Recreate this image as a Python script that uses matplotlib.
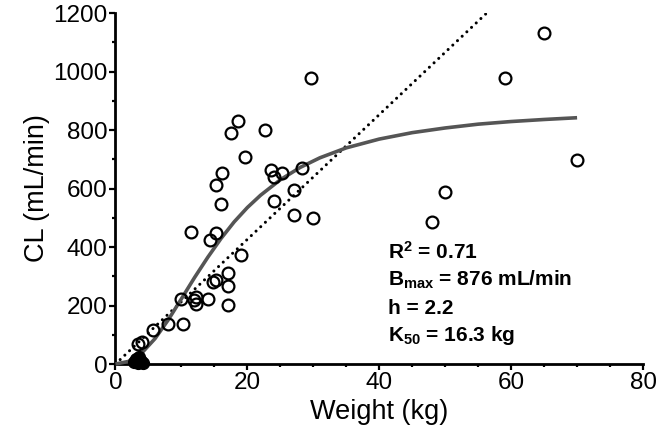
import matplotlib
matplotlib.use("Agg")
import matplotlib.pyplot as plt

plt.rcParams["font.family"] = ["Liberation Sans", "DejaVu Sans"]
plt.rcParams["mathtext.fontset"] = "custom"
plt.rcParams["mathtext.rm"] = "Liberation Sans:bold"
plt.rcParams["mathtext.it"] = "Liberation Sans:bold"
plt.rcParams["mathtext.bf"] = "Liberation Sans:bold"

# observed clearance, open circles
weight = [3.4, 4.0, 5.7, 7.9, 10.2, 9.9, 11.9, 12.2, 12.2, 14.1,
          14.8, 15.2, 17.0, 17.0, 17.0, 19.1, 11.4, 15.2, 14.3, 16.0,
          15.3, 16.1, 19.6, 17.5, 18.6, 22.7, 23.6, 24.1, 25.2, 28.3,
          27.0, 24.0, 27.0, 30.0, 29.6, 48.0, 50.0, 59.0, 65.0, 70.0]
clearance = [67, 74, 116, 137, 137, 221, 218, 228, 205, 221,
             281, 287, 312, 267, 202, 373, 451, 449, 425, 547,
             613, 654, 707, 790, 831, 800, 662, 638, 652, 670,
             595, 558, 508, 498, 977, 484, 588, 977, 1133, 697]

# neonates, filled circles
neo_weight = [2.8, 3.1, 3.4, 3.6, 3.9, 3.3, 4.1]
neo_clearance = [8, 18, 4, 25, 12, 10, 5]

# fitted sigmoid curve
fit_weight = [0, 2, 4, 6, 8, 10, 12, 14, 16, 18, 20, 22, 25, 28, 31,
              35, 40, 45, 50, 55, 60, 65, 70]
fit_clearance = [0, 9, 38, 87, 151, 223, 296, 365, 429, 486, 535, 577,
                 630, 672, 705, 739, 769, 791, 807, 820, 829, 836, 842]

# linear reference line
line_weight = [0, 56.3]
line_clearance = [0, 1200]

stats_lines = [
    r"R$^{2}$ = 0.71",
    r"B$_{\mathrm{max}}$ = 876 mL/min",
    "h = 2.2",
    r"K$_{50}$ = 16.3 kg",
]
stats_y = [383, 287, 191, 99]

fig = plt.figure(figsize=(6.66, 4.38), dpi=100)
ax = fig.add_axes([0.1734, 0.1689, 0.7921, 0.8014])

ax.plot(line_weight, line_clearance, color="black", linewidth=2.2,
        linestyle=(0, (0.01, 2.1)), dash_capstyle="round", zorder=2)
ax.plot(fit_weight, fit_clearance, color="#555555", linewidth=2.6,
        solid_capstyle="butt", zorder=3, clip_on=False)
ax.plot(weight, clearance, linestyle="none", marker="o", markersize=8.5,
        markerfacecolor="none", markeredgecolor="black",
        markeredgewidth=1.6, zorder=4, clip_on=False)
ax.plot(neo_weight, neo_clearance, linestyle="none", marker="o",
        markersize=8.5, color="black", zorder=5, clip_on=False)

for label, y in zip(stats_lines, stats_y):
    ax.text(41.3, y, label, fontsize=15, fontweight="bold",
            va="center", ha="left")

ax.set_xlim(0, 80)
ax.set_ylim(0, 1200)
ax.set_xticks(range(0, 81, 20))
ax.set_xticks(range(0, 81, 5), minor=True)
ax.set_yticks(range(0, 1201, 200))
ax.set_yticks(range(0, 1201, 100), minor=True)

for side in ("top", "right"):
    ax.spines[side].set_visible(False)
for side in ("left", "bottom"):
    ax.spines[side].set_linewidth(2.0)

ax.tick_params(which="major", length=4, width=1.6, labelsize=17.5, pad=2)
ax.tick_params(which="minor", length=2.5, width=1.6)
ax.set_xlabel("Weight (kg)", fontsize=19.5, labelpad=3)
ax.set_ylabel("CL (mL/min)", fontsize=19.5, labelpad=2)

fig.savefig("out.png", dpi=100)
